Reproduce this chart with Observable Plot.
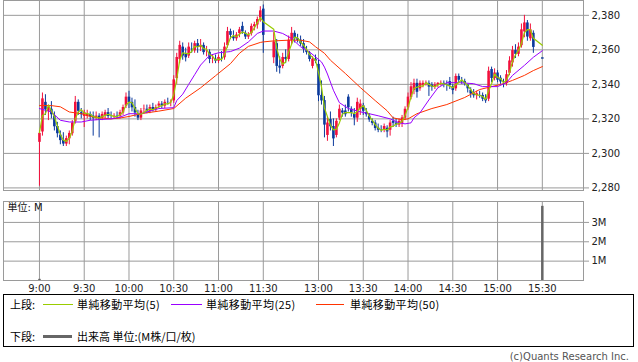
<!DOCTYPE html>
<html><head><meta charset="utf-8">
<script src="https://cdn.jsdelivr.net/npm/d3@7"></script>
<script src="https://cdn.jsdelivr.net/npm/@observablehq/plot@0.6"></script>
<style>
body{margin:0;background:#fff;}
#root{position:relative;width:638px;height:362px;overflow:hidden;font-family:"DejaVu Sans",sans-serif;background:#fff;}
#upper,#lower{position:absolute;left:0;}
#upper{top:0}
#lower{top:201px}
#legend{position:absolute;left:3px;top:294px;width:629px;height:51px;border:1px solid #000;font-family:"Noto Sans CJK JP",sans-serif;font-size:11px;line-height:13px;color:#000;}
#legend span{position:absolute;white-space:nowrap;}
#legend i{position:absolute;display:block;}
#copy{position:absolute;right:9px;top:351px;font-size:10px;color:#555;font-family:"DejaVu Sans",sans-serif;}
</style></head>
<body><div id="root">
<div id="upper"></div><div id="lower"></div>
<div id="legend">
<span style="left:6px;top:3px">上段:</span>
<i style="left:39px;top:9px;width:30px;height:1px;background:#99cc00"></i>
<span style="left:73px;top:3px;letter-spacing:0.4px">単純移動平均(5)</span>
<i style="left:167px;top:9px;width:31px;height:1px;background:#9900ff"></i>
<span style="left:202px;top:3px;letter-spacing:0.4px">単純移動平均(25)</span>
<i style="left:312px;top:9px;width:28px;height:1px;background:#ff3300"></i>
<span style="left:346px;top:3px;letter-spacing:0.4px">単純移動平均(50)</span>
<span style="left:6px;top:35px">下段:</span>
<i style="left:39px;top:40px;width:29px;height:3px;background:#666"></i>
<span style="left:73px;top:35px">出来高 単位:(M株/口/枚)</span>
</div>
<div id="copy">(c)Quants Research Inc.</div>
</div>
<script>
// ---- candle data (2-minute bars) ----
const times = [
"9:00","9:02","9:04","9:06","9:08","9:10","9:12","9:14","9:16","9:18",
"9:20","9:22","9:24","9:26","9:28","9:30","9:32","9:34","9:36","9:38",
"9:40","9:42","9:44","9:46","9:48","9:50","9:52","9:54","9:56","9:58",
"10:00","10:02","10:04","10:06","10:08","10:10","10:12","10:14","10:16","10:18",
"10:20","10:22","10:24","10:26","10:28","10:30","10:32","10:34","10:36","10:38",
"10:40","10:42","10:44","10:46","10:48","10:50","10:52","10:54","10:56","10:58",
"11:00","11:02","11:04","11:06","11:08","11:10","11:12","11:14","11:16","11:18",
"11:20","11:22","11:24","11:26","11:28","11:30",
"12:30","12:32","12:34","12:36","12:38","12:40","12:42","12:44","12:46","12:48",
"12:50","12:52","12:54","12:56","12:58","13:00","13:02","13:04","13:06","13:08",
"13:10","13:12","13:14","13:16","13:18","13:20","13:22","13:24","13:26","13:28",
"13:30","13:32","13:34","13:36","13:38","13:40","13:42","13:44","13:46","13:48",
"13:50","13:52","13:54","13:56","13:58","14:00","14:02","14:04","14:06","14:08",
"14:10","14:12","14:14","14:16","14:18","14:20","14:22","14:24","14:26","14:28",
"14:30","14:32","14:34","14:36","14:38","14:40","14:42","14:44","14:46","14:48",
"14:50","14:52","14:54","14:56","14:58","15:00","15:02","15:04","15:06","15:08",
"15:10","15:12","15:14","15:16","15:18","15:20","15:22","15:24","15:30"];
const open = [
2306,2312,2330,2324,2326,2322,2316,2311,2308,2305,
2308,2311,2318,2330,2324,2321,2321,2323,2322,2320,
2322,2320,2321,2324,2322,2321,2322,2321,2323,2327,
2333,2330,2327,2323,2320,2325,2326,2324,2327,2325,
2327,2329,2327,2330,2329,2330,2343,2354,2362,2358,
2356,2361,2359,2364,2361,2363,2359,2359,2354,2355,
2353,2355,2355,2362,2371,2368,2366,2369,2374,2370,
2367,2369,2373,2374,2378,2384,
2355,2364,2351,2350,2356,2354,2365,2370,2367,2366,
2364,2360,2358,2350,2355,2352,2334,2331,2310,2320,
2316,2310,2320,2325,2325,2333,2326,2323,2320,2325,
2328,2324,2322,2319,2318,2315,2314,2313,2315,2313,
2319,2318,2316,2317,2320,2326,2332,2336,2341,2337,
2339,2340,2341,2340,2338,2339,2340,2341,2340,2342,
2339,2337,2345,2342,2342,2340,2337,2335,2333,2334,
2334,2332,2331,2349,2343,2347,2344,2341,2340,2346,
2352,2360,2357,2362,2370,2376,2366,2370,2355];
const high = [
2313,2335,2334,2328,2330,2324,2318,2313,2312,2310,
2313,2319,2333,2331,2326,2325,2325,2324,2324,2324,
2323,2324,2325,2326,2324,2323,2324,2325,2328,2335,
2336,2332,2331,2325,2326,2328,2328,2328,2329,2328,
2330,2330,2331,2332,2331,2345,2358,2365,2364,2361,
2364,2364,2365,2366,2366,2364,2362,2360,2357,2357,
2357,2359,2364,2373,2372,2371,2370,2373,2376,2371,
2370,2375,2376,2379,2385,2386,
2370,2366,2356,2358,2360,2368,2373,2371,2369,2368,
2366,2362,2359,2356,2357,2354,2342,2333,2321,2324,
2320,2320,2328,2326,2328,2334,2327,2326,2332,2331,
2329,2326,2323,2320,2319,2317,2316,2317,2316,2319,
2321,2320,2320,2322,2327,2335,2341,2343,2343,2342,
2342,2342,2342,2341,2341,2341,2342,2342,2342,2344,
2340,2346,2346,2344,2343,2340,2338,2337,2336,2336,
2335,2334,2350,2350,2349,2348,2345,2343,2348,2356,
2362,2363,2364,2375,2380,2377,2375,2371,2355];
const low = [
2281,2310,2322,2319,2320,2313,2309,2305,2304,2304,
2305,2310,2317,2322,2320,2315,2320,2319,2310,2319,
2309,2319,2320,2320,2320,2320,2320,2320,2322,2326,
2326,2324,2321,2319,2319,2323,2323,2323,2324,2324,
2326,2326,2326,2328,2327,2329,2340,2352,2354,2353,
2355,2358,2358,2358,2359,2357,2356,2352,2352,2352,
2352,2353,2354,2361,2366,2365,2365,2367,2369,2366,
2366,2368,2371,2372,2376,2358,
2352,2347,2346,2349,2352,2353,2363,2364,2364,2362,
2358,2357,2353,2349,2352,2330,2328,2309,2307,2313,
2304,2309,2319,2321,2321,2324,2321,2316,2318,2322,
2322,2321,2318,2316,2313,2312,2312,2312,2309,2310,
2315,2315,2315,2315,2319,2325,2331,2334,2332,2336,
2338,2339,2333,2336,2337,2338,2339,2338,2336,2337,
2334,2336,2341,2340,2339,2335,2332,2332,2331,2332,
2330,2329,2330,2341,2342,2341,2340,2338,2339,2345,
2350,2355,2356,2361,2367,2365,2365,2358,2355];
const close = [
2312,2332,2325,2327,2322,2315,2311,2307,2305,2309,
2312,2318,2330,2324,2322,2324,2323,2321,2320,2322,
2319,2323,2324,2321,2321,2322,2321,2324,2327,2333,
2329,2326,2323,2320,2325,2326,2324,2327,2325,2327,
2329,2327,2330,2329,2330,2343,2356,2363,2356,2355,
2362,2360,2364,2361,2363,2358,2360,2354,2355,2353,
2356,2354,2362,2371,2368,2366,2369,2372,2370,2367,
2369,2374,2375,2378,2383,2368,
2365,2350,2349,2356,2354,2366,2370,2366,2365,2363,
2360,2358,2354,2355,2353,2333,2330,2316,2318,2315,
2308,2319,2326,2323,2322,2326,2323,2320,2330,2329,
2324,2322,2319,2317,2314,2313,2313,2316,2312,2318,
2317,2316,2319,2321,2326,2333,2339,2341,2335,2341,
2341,2341,2338,2338,2340,2341,2341,2339,2339,2339,
2336,2345,2342,2341,2340,2337,2334,2333,2335,2333,
2331,2330,2348,2343,2347,2342,2341,2340,2346,2354,
2360,2357,2362,2372,2376,2367,2372,2361,2355];

// ---- moving averages ----
const ma25Times = ["9:00","9:08","9:14","9:20","9:28","9:34","9:40","9:48","9:54","10:00","10:08","10:20","10:30","10:32","10:36","10:40","10:44","10:48","10:54","11:00","11:08","11:14","11:20","11:26","11:30","12:30","12:36","12:42","12:48","12:54","12:58","13:02","13:04","13:06","13:10","13:14","13:20","13:28","13:34","13:40","13:48","13:54","13:58","14:02","14:04","14:08","14:14","14:20","14:26","14:34","14:44","14:50","15:00","15:06","15:10","15:18","15:24","15:30"];
const ma25 = [2326,2324,2319.2,2318.2,2318.2,2319.2,2319.6,2320,2321,2323,2323,2326,2326.5,2330.6,2334.3,2340,2345.6,2351.2,2356.8,2358.3,2359,2361,2364.6,2369.5,2370.9,2370.9,2369.5,2366.6,2361.8,2358.8,2355.9,2353,2350,2346,2336.6,2329.4,2326,2324.1,2323,2321.8,2320,2317.7,2317.1,2317.7,2320.6,2323.5,2331,2338,2341,2341,2340.4,2338.7,2338.7,2341,2345.2,2351,2355.7,2359.5];
const ma50Times = ["9:00","9:08","9:14","9:20","9:28","9:34","9:40","9:48","9:54","10:00","10:08","10:20","10:30","10:38","10:48","10:58","11:08","11:14","11:20","11:28","11:30","12:30","12:40","12:48","12:54","12:58","13:04","13:08","13:18","13:28","13:38","13:46","13:50","13:56","14:00","14:06","14:16","14:26","14:38","14:48","14:56","15:04","15:10","15:18","15:24","15:30"];
const ma50 = [2327.7,2327.7,2327,2324,2323,2321.4,2320.7,2320,2320.5,2321.4,2323,2324.5,2326,2332,2338,2345,2352,2358,2362,2364.3,2364.6,2365.2,2365.6,2365.6,2364.6,2361.8,2358,2354,2346.3,2338.2,2330.6,2324.7,2320.6,2319.5,2320,2323,2326,2328.3,2332.4,2337,2338.7,2340.4,2342.3,2345.2,2348,2350.3];

// ---- volume (million shares) ----
const volTimes = ["9:00","15:30"];
const volume = [0.06,3.83];

// ---- axes ----
const tickTimes = ["9:00","9:30","10:00","10:30","11:00","11:30","13:00","13:30","14:00","14:30","15:00","15:30"];
const priceTicks = [2280,2300,2320,2340,2360,2380];
const volTicks = [1,2,3];

// time -> session slot (minutes from 9:00, lunch break compressed)
const LUNCH_GAP = 7;
function slot(t){
  const [h,m] = t.split(":").map(Number);
  const mm = h*60 + m - 540;
  return mm > 150 ? mm - 210 + 150 + LUNCH_GAP : mm;
}

const RED = "#f2103c", BLUE = "#0b3a9c", GRID = "#9a9a9a";
const candles = times.map((t,i)=>({pos: slot(t), open: open[i], high: high[i], low: low[i], close: close[i]}));
const ma25Data = ma25Times.map((t,i)=>({pos: slot(t), v: ma25[i]}));
const ma50Data = ma50Times.map((t,i)=>({pos: slot(t), v: ma50[i]}));
const volData = volTimes.map((t,i)=>({pos: slot(t), v: volume[i]}));
const tickPos = tickTimes.map(slot);
const tickLabel = new Map(tickTimes.map(t=>[slot(t), t]));
const xDomain = [-24.1, 364.6];
const candleColor = d => d.close > d.open ? RED : BLUE;
const font = {fontFamily: "'DejaVu Sans','Noto Sans CJK JP',sans-serif", fontSize: "10px", background: "#fff", color: "#222"};

const upper = Plot.plot({
  width: 638, height: 192,
  marginLeft: 3, marginRight: 55, marginTop: 0, marginBottom: 2,
  x: {domain: xDomain, axis: null},
  y: {domain: [2278.5, 2388.6], axis: null},
  color: {type: "identity"},
  style: font,
  marks: [
    Plot.gridX(tickPos, {stroke: GRID, strokeOpacity: 1}),
    Plot.gridY(priceTicks, {stroke: GRID, strokeOpacity: 1}),
    Plot.frame({stroke: GRID}),
    Plot.axisY(priceTicks, {anchor: "right", label: null, tickSize: 5, tickPadding: 3, tickFormat: d3.format(","), stroke: GRID, fill: "#222", fontSize: 10}),
    Plot.ruleX(candles, {x: "pos", y1: "low", y2: "high", stroke: candleColor, strokeWidth: 1}),
    Plot.ruleX(candles, {x: "pos", y1: d=>Math.min(d.open,d.close), y2: d=>Math.max(d.open,d.close), stroke: candleColor, strokeWidth: 2.6, insetTop: -0.7, insetBottom: -0.7}),
    Plot.line(ma50Data, {x: "pos", y: "v", stroke: "#ff3300", strokeWidth: 1}),
    Plot.line(ma25Data, {x: "pos", y: "v", stroke: "#9900ff", strokeWidth: 1}),
    Plot.line(candles, Plot.windowY({k: 3, anchor: "end", reduce: "mean"}, {x: "pos", y: "close", stroke: "#99cc00", strokeWidth: 1.2}))
  ]
});
document.getElementById("upper").appendChild(upper);

const lower = Plot.plot({
  width: 638, height: 93,
  marginLeft: 3, marginRight: 55, marginTop: 0, marginBottom: 14,
  x: {domain: xDomain, axis: null},
  y: {domain: [0, 4.08], axis: null},
  style: font,
  marks: [
    Plot.gridX(tickPos, {stroke: GRID, strokeOpacity: 1}),
    Plot.gridY(volTicks, {stroke: GRID, strokeOpacity: 1}),
    Plot.frame({stroke: GRID}),
    Plot.axisY(volTicks, {anchor: "right", label: null, tickSize: 5, tickPadding: 3, tickFormat: d => d + "M", stroke: GRID, fill: "#222", fontSize: 10}),
    Plot.axisX(tickPos, {anchor: "bottom", label: null, tickSize: 0, tickPadding: 4, tickFormat: d => tickLabel.get(d), fill: "#222", fontSize: 10}),
    Plot.ruleX(volData, {x: "pos", y1: 0, y2: "v", stroke: "#666", strokeWidth: 2.5}),
    Plot.text(["単位: M"], {frameAnchor: "top-left", dx: 4, dy: 2, fontSize: 10, fill: "#111"})
  ]
});
document.getElementById("lower").appendChild(lower);
</script>
</body></html>
